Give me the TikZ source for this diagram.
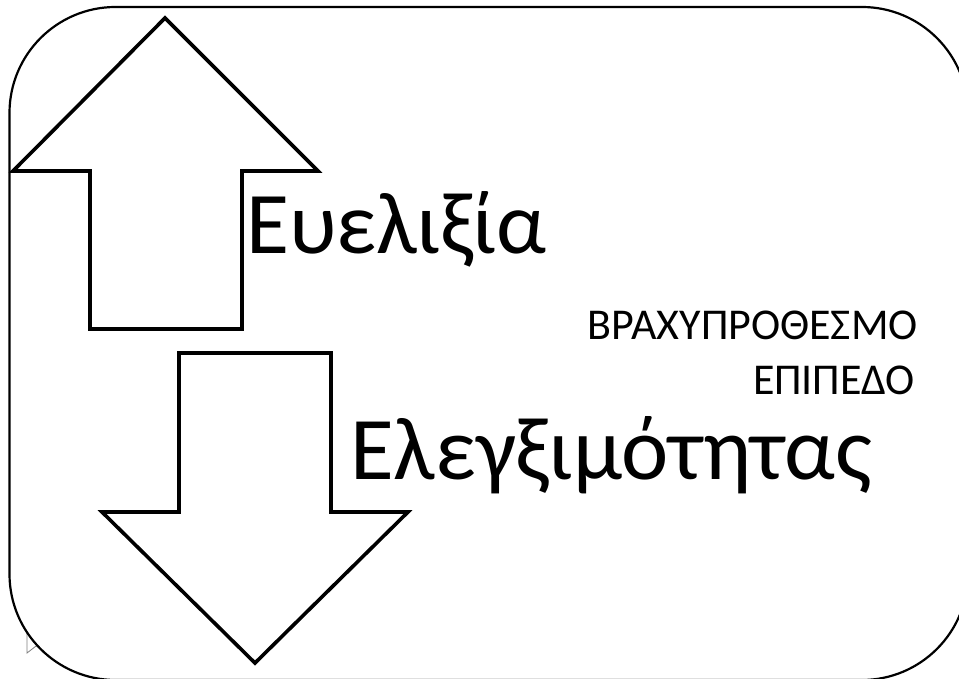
\documentclass[tikz,border=0pt]{standalone}
\usepackage{fontspec}
\setmainfont{Carlito}
\begin{document}
\begin{tikzpicture}[x=1pt,y=-1pt,
  frame/.style={draw=black,line width=2.2pt,fill=white},
  bigarrow/.style={draw=black,line width=3.6pt,line join=miter,fill=white},
  bigtext/.style={inner sep=0pt,font=\fontsize{88}{106}\selectfont},
  smalltext/.style={inner sep=0pt,font=\fontsize{44}{55}\selectfont}]
\useasboundingbox (0,0) rectangle (959,679);
\fill[white] (0,0) rectangle (959,679);
% small gray mark behind the frame
\draw[gray,line width=0.8pt] (27,633) -- (27,653) -- (40,643) -- cycle;
% frame with round corners (radius about 106)
\draw[frame] (115.5,7) -- (862,7) .. controls (920.5,7) and (968,54.5) .. (968,113)
  -- (968,574) .. controls (968,632.5) and (920.5,680) .. (862,680)
  -- (115.5,680) .. controls (57,680) and (9.5,632.5) .. (9.5,574)
  -- (9.5,113) .. controls (9.5,54.5) and (57,7) .. (115.5,7) -- cycle;
% up arrow
\draw[bigarrow] (165,18) -- (318,171) -- (242,171) -- (242,329) -- (90,329) -- (90,171) -- (13,171) -- cycle;
% down arrow
\draw[bigarrow] (255,663) -- (408,512) -- (331,512) -- (331,353) -- (179,353) -- (179,512) -- (102,512) -- cycle;
% texts
\node[bigtext,anchor=base west] (flex) at (246,254) {Ευελιξία};
\node[smalltext,anchor=base east] (short1) at (918,339) {ΒΡΑΧΥΠΡΟΘΕΣΜΟ};
\node[smalltext,anchor=base east] (short2) at (915,394) {ΕΠΙΠΕΔΟ};
\node[bigtext,anchor=base west,font=\fontsize{89.5}{107}\selectfont] (ctrl) at (350,479) {Ελεγξιμότητας};
\end{tikzpicture}
\end{document}
